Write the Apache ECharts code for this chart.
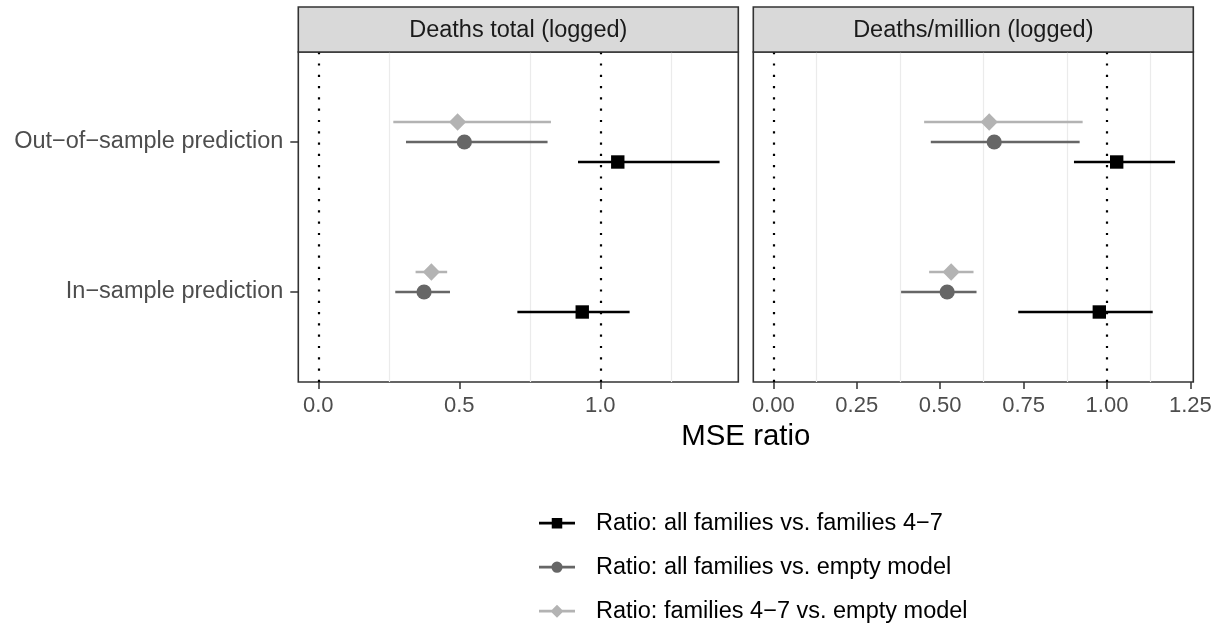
<!DOCTYPE html>
<html><head><meta charset="utf-8">
<script src="https://cdn.jsdelivr.net/npm/echarts@6/dist/echarts.min.js"></script>
<style>html,body{margin:0;padding:0;background:#fff}#c{width:1220px;height:626px}</style>
</head><body><div id="c"></div>
<script>
// ---- data ----
var categories = ['In\u2212sample prediction', 'Out\u2212of\u2212sample prediction']; // y = 1, 2
var panels = ['Deaths total (logged)', 'Deaths/million (logged)'];
var seriesNames = ['Ratio: all families vs. families 4\u22127', 'Ratio: all families vs. empty model', 'Ratio: families 4\u22127 vs. empty model'];
// [low, estimate, high] for [in-sample, out-of-sample]
var allVs47_total   = [[0.706, 0.936, 1.104], [0.921, 1.062, 1.423]];
var allVs47_million = [[0.734, 0.977, 1.137], [0.901, 1.029, 1.204]];
var allVsEmpty_total   = [[0.273, 0.375, 0.467], [0.311, 0.518, 0.813]];
var allVsEmpty_million = [[0.383, 0.521, 0.609], [0.472, 0.662, 0.918]];
var f47VsEmpty_total   = [[0.345, 0.401, 0.457], [0.266, 0.494, 0.825]];
var f47VsEmpty_million = [[0.467, 0.533, 0.600], [0.452, 0.647, 0.927]];
var ticksLeft = [0, 0.5, 1.0];
var ticksRight = [0, 0.25, 0.5, 0.75, 1.0, 1.25];
var gridLeft = [0.25, 0.75, 1.25];
var gridRight = [0.125, 0.375, 0.625, 0.875, 1.125];
var refLines = [0, 1];

// ---- styling ----
var FONT = 'Liberation Sans, Arial, Helvetica, sans-serif';
var colors = ['#000000', '#666666', '#b3b3b3'];
var shapes = ['square', 'circle', 'diamond'];
var dodge = [-0.1333, 0, 0.1333];
var icons = [
  'path://M0,5.65H36V8.35H0Z M12.75,1.75H23.25V12.25H12.75Z',
  'path://M0,5.65H36V8.35H0Z M12.4,7A5.6,5.6 0 1 1 23.6,7A5.6,5.6 0 1 1 12.4,7Z',
  'path://M0,5.65H36V8.35H0Z M18,0.5L24.5,7L18,13.5L11.5,7Z'
];
var seriesData = [
  [allVs47_total, allVs47_million],
  [allVsEmpty_total, allVsEmpty_million],
  [f47VsEmpty_total, f47VsEmpty_million]
];

function toRows(arr) {
  return arr.map(function (r, i) { return [r[0], r[1], r[2], i + 1]; });
}

function makeRender(k) {
  return function (params, api) {
    var y = api.value(3) + dodge[k];
    var lo = api.coord([api.value(0), y]);
    var hi = api.coord([api.value(2), y]);
    var c = api.coord([api.value(1), y]);
    var col = colors[k];
    var children = [{
      type: 'line', shape: { x1: lo[0], y1: lo[1], x2: hi[0], y2: hi[1] },
      style: { stroke: col, lineWidth: 2.3 }
    }];
    if (shapes[k] === 'square') {
      children.push({ type: 'rect', shape: { x: c[0] - 6.7, y: c[1] - 6.7, width: 13.4, height: 13.4 }, style: { fill: col } });
    } else if (shapes[k] === 'circle') {
      children.push({ type: 'circle', shape: { cx: c[0], cy: c[1], r: 7.6 }, style: { fill: col } });
    } else {
      children.push({ type: 'polygon', shape: { points: [[c[0], c[1] - 8.8], [c[0] + 8.6, c[1]], [c[0], c[1] + 8.8], [c[0] - 8.6, c[1]]] }, style: { fill: col } });
    }
    return { type: 'group', children: children };
  };
}

var grids = [
  { left: 298.3, top: 52, width: 440, height: 330, show: true, borderColor: '#333333', borderWidth: 1.6, backgroundColor: '#ffffff' },
  { left: 753.3, top: 52, width: 440, height: 330, show: true, borderColor: '#333333', borderWidth: 1.6, backgroundColor: '#ffffff' }
];
var xlims = [[-0.0709, 1.4894], [-0.0599, 1.2586]];
var xticks = [ticksLeft, ticksRight];
var xdec = [1, 2];
var xAxes = [0, 1].map(function (p) {
  return {
    type: 'value', gridIndex: p, min: xlims[p][0], max: xlims[p][1], position: 'bottom',
    axisLine: { show: false, onZero: false },
    splitLine: { show: false },
    axisTick: { show: true, customValues: xticks[p], length: 7, lineStyle: { color: '#333333', width: 1.5 } },
    axisLabel: { show: true, customValues: xticks[p], margin: 13, color: '#4d4d4d', fontSize: 22, fontFamily: FONT,
      formatter: function (v) { return Number(v).toFixed(xdec[p]); } }
  };
});
var yAxes = [0, 1].map(function (p) {
  return {
    type: 'value', gridIndex: p, min: 0.4, max: 2.6, position: 'left',
    axisLine: { show: false, onZero: false },
    splitLine: { show: false },
    axisTick: { show: p === 0, customValues: [1, 2], length: 8, lineStyle: { color: '#333333', width: 1.5 } },
    axisLabel: { show: p === 0, customValues: [1, 2], margin: 15, color: '#4d4d4d', fontSize: 23.5, fontFamily: FONT,
      padding: [4, 0, 0, 0],
      formatter: function (v) { return categories[Math.round(v) - 1]; } }
  };
});

var series = [];
var gridVals = [gridLeft, gridRight];
[0, 1].forEach(function (p) {
  series.push({
    type: 'scatter', xAxisIndex: p, yAxisIndex: p, data: [], silent: true, z: 1,
    markLine: {
      silent: true, symbol: ['none', 'none'], label: { show: false }, animation: false,
      lineStyle: { color: '#ebebeb', width: 1.2, type: 'solid' },
      data: gridVals[p].map(function (v) { return { xAxis: v }; })
    }
  });
  series.push({
    type: 'scatter', xAxisIndex: p, yAxisIndex: p, data: [], silent: true, z: 2,
    markLine: {
      silent: true, symbol: ['none', 'none'], label: { show: false }, animation: false,
      lineStyle: { color: '#000000', width: 2.2, type: [2.2, 9.1] },
      data: refLines.map(function (v) { return { xAxis: v }; })
    }
  });
});
[0, 1, 2].forEach(function (k) {
  [0, 1].forEach(function (p) {
    series.push({
      type: 'custom', name: seriesNames[k], xAxisIndex: p, yAxisIndex: p, z: 5 + (2 - k),
      itemStyle: { color: colors[k] },
      renderItem: makeRender(k),
      encode: { x: [0, 1, 2], y: 3 },
      data: toRows(seriesData[k][p])
    });
  });
});

var chart = echarts.init(document.getElementById('c'), null, { renderer: 'canvas' });
chart.setOption({
  animation: false,
  backgroundColor: '#ffffff',
  grid: grids,
  xAxis: xAxes,
  yAxis: yAxes,
  legend: {
    orient: 'vertical', left: 539, top: 510.2, itemWidth: 36, itemHeight: 14, itemGap: 18, padding: 0,
    selectedMode: false,
    textStyle: { color: '#000000', fontSize: 23.5, fontFamily: FONT, lineHeight: 26, padding: [0, 0, 0, 16] },
    data: seriesNames.map(function (n, k) { return { name: n, icon: icons[k], itemStyle: { color: colors[k] } }; })
  },
  graphic: [
    { type: 'rect', shape: { x: 298.3, y: 7, width: 440, height: 45 }, style: { fill: '#d9d9d9', stroke: '#333333', lineWidth: 1.6 }, z: 10 },
    { type: 'rect', shape: { x: 753.3, y: 7, width: 440, height: 45 }, style: { fill: '#d9d9d9', stroke: '#333333', lineWidth: 1.6 }, z: 10 },
    { type: 'text', x: 518.3, y: 31, style: { text: panels[0], fill: '#1a1a1a', font: '23.5px ' + FONT, textAlign: 'center', textVerticalAlign: 'middle' }, z: 11 },
    { type: 'text', x: 973.3, y: 31, style: { text: panels[1], fill: '#1a1a1a', font: '23.5px ' + FONT, textAlign: 'center', textVerticalAlign: 'middle' }, z: 11 },
    { type: 'text', x: 745.8, y: 437, style: { text: 'MSE ratio', fill: '#000000', font: '29.4px ' + FONT, textAlign: 'center', textVerticalAlign: 'middle' }, z: 11 }
  ],
  series: series
});
</script>
</body></html>
